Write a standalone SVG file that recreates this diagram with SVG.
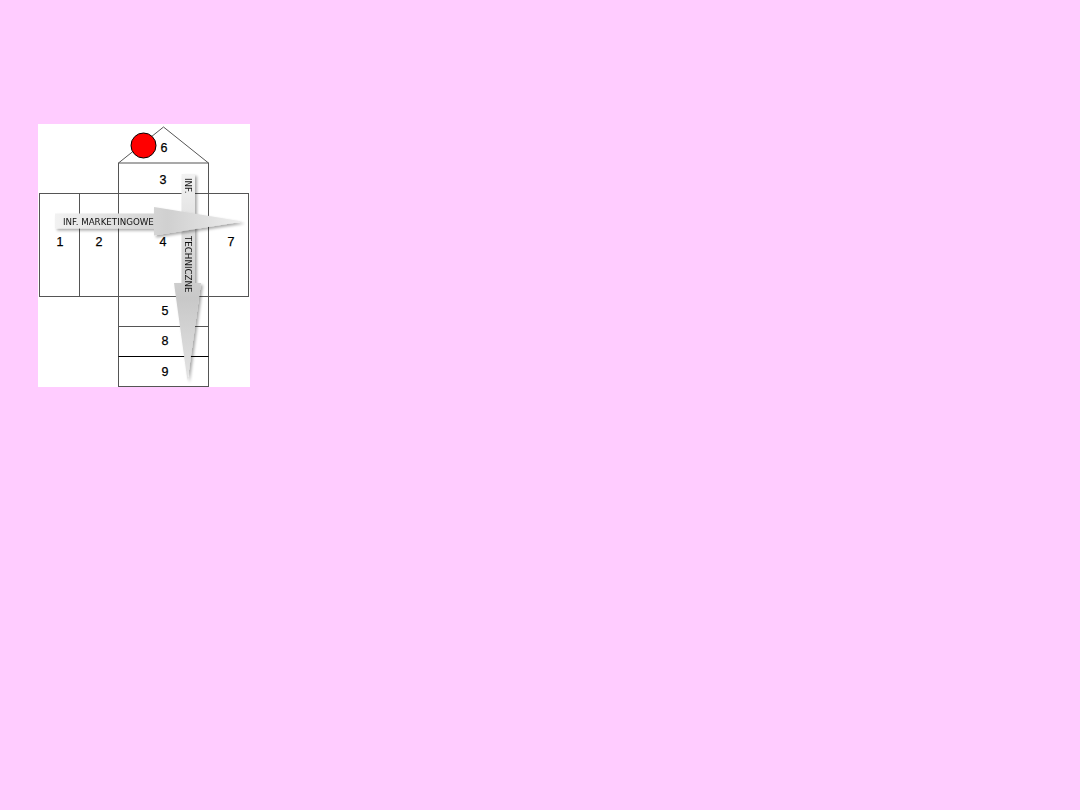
<svg xmlns="http://www.w3.org/2000/svg" width="1080" height="810" viewBox="0 0 1080 810">
<defs>
<style>
.ln{fill:none;stroke:#555;stroke-width:1}
.num{font-family:"Liberation Sans",Arial,sans-serif;font-size:12.5px;fill:#000;text-anchor:middle;stroke:#000;stroke-width:0.25}
.lab{font-family:"DejaVu Sans",Verdana,sans-serif;font-size:8.7px;fill:#111}
</style>
<linearGradient id="gh" x1="0" y1="0" x2="1" y2="0">
<stop offset="0" stop-color="#f2f2f2"/><stop offset="0.6" stop-color="#d0d0d0"/><stop offset="1" stop-color="#eeeeee"/>
</linearGradient>
<linearGradient id="gv" x1="0" y1="0" x2="0" y2="1">
<stop offset="0" stop-color="#f2f2f2"/><stop offset="0.6" stop-color="#c8c8c8"/><stop offset="1" stop-color="#e4e4e4"/>
</linearGradient>
<filter id="sh" x="-20%" y="-20%" width="140%" height="140%">
<feGaussianBlur in="SourceAlpha" stdDeviation="1.5"/><feOffset dx="2" dy="2"/>
<feComponentTransfer><feFuncA type="linear" slope="0.35"/></feComponentTransfer>
<feMerge><feMergeNode/><feMergeNode in="SourceGraphic"/></feMerge>
</filter>
</defs>
<rect width="1080" height="810" fill="#ffccff"/>
<rect x="38" y="124" width="212" height="263" fill="#ffffff"/>
<g id="plan">
<polyline class="ln" points="118.5,163 163.5,127 208.5,163"/>
<rect class="ln" x="118.5" y="163" width="90" height="223.5"/>
<rect class="ln" x="39.5" y="193.5" width="209" height="103"/>
<line class="ln" x1="79.5" y1="193.5" x2="79.5" y2="296.5"/>
<line class="ln" x1="118.5" y1="326.5" x2="208.5" y2="326.5"/>
<line x1="118.5" y1="356.5" x2="208.5" y2="356.5" stroke="#000" stroke-width="1"/>
</g>
<g id="marker-circle">
<circle cx="143.5" cy="145.5" r="12.5" fill="#ff0000" stroke="#000" stroke-width="1"/>
</g>
<g id="labels">
<text class="num" x="164" y="152">6</text>
<text class="num" x="163" y="184">3</text>
<text class="num" x="60" y="246">1</text>
<text class="num" x="99" y="246">2</text>
<text class="num" x="163" y="246">4</text>
<text class="num" x="231" y="246">7</text>
<text class="num" x="165" y="315">5</text>
<text class="num" x="165" y="345">8</text>
<text class="num" x="165" y="376">9</text>
</g>
<g id="connectors">
<g id="arrow-techniczne" filter="url(#sh)">
<polygon points="181.5,174 195,174 195,283 201,283 187.5,381 174,283 181.5,283" fill="url(#gv)"/>
<text class="lab" transform="translate(185,178) rotate(90)">INF.</text>
<text class="lab" transform="translate(185,236) rotate(90)">TECHNICZNE</text>
</g>
<g id="arrow-marketing" filter="url(#sh)">
<polygon points="55,213.5 154,213.5 154,207 243,221.5 154,235.5 154,228.5 55,228.5" fill="url(#gh)"/>
<text class="lab" x="63" y="224.5">INF. MARKETINGOWE</text>
</g>
</g>
</svg>
